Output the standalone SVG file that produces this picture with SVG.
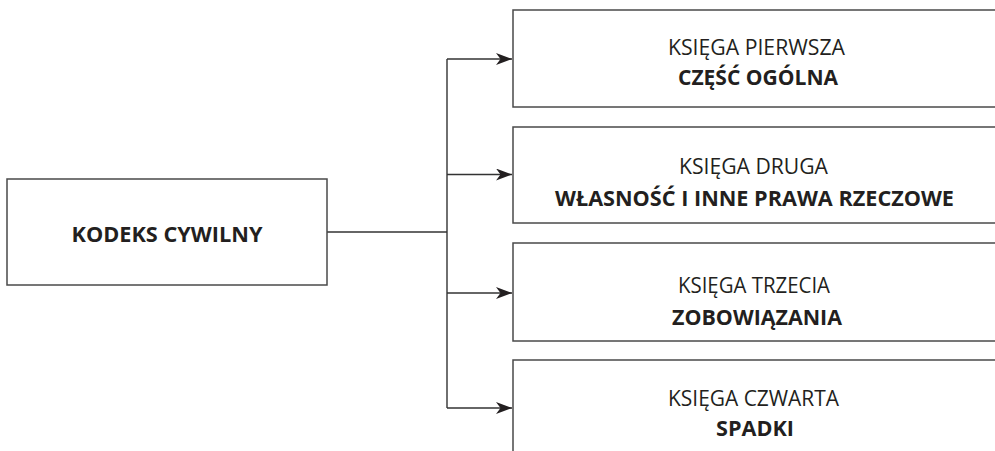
<svg xmlns="http://www.w3.org/2000/svg" width="995" height="451" viewBox="0 0 995 451">
<defs>
<marker id="arr" markerUnits="userSpaceOnUse" markerWidth="18" markerHeight="14" refX="16" refY="6" orient="auto">
<path d="M0,0 L16,6 L0,12 L4.5,6 z" fill="#231f20"/>
</marker>
<style>
.box{fill:#fff;stroke:#4a4a4a;stroke-width:1.5}
.con{fill:none;stroke:#333;stroke-width:1.4}
.t{font-family:"Open Sans","Noto Sans",sans-serif;font-size:22px;fill:#231f20;text-anchor:middle}
.b{font-weight:bold}
</style>
</defs>
<rect width="995" height="451" fill="#fff"/>
<g id="connectors">
<path class="con" d="M327,232 H447"/>
<path class="con" d="M447,408 V59"/>
<path class="con" d="M447,59 H512" marker-end="url(#arr)"/>
<path class="con" d="M447,174.5 H512" marker-end="url(#arr)"/>
<path class="con" d="M447,293 H512" marker-end="url(#arr)"/>
<path class="con" d="M447,408 H512" marker-end="url(#arr)"/>
</g>
<g id="kodeks">
<rect class="box" x="7" y="179" width="320" height="106"/>
<text class="t b" x="167" y="242" textLength="191" lengthAdjust="spacingAndGlyphs">KODEKS CYWILNY</text>
</g>
<g id="ksiega1">
<rect class="box" x="513" y="10" width="500" height="97"/>
<text class="t" x="756.5" y="55" textLength="177" lengthAdjust="spacingAndGlyphs">KSIĘGA PIERWSZA</text>
<text class="t b" x="758" y="85" textLength="160" lengthAdjust="spacingAndGlyphs">CZĘŚĆ OGÓLNA</text>
</g>
<g id="ksiega2">
<rect class="box" x="513" y="127" width="500" height="96"/>
<text class="t" x="753.5" y="174" textLength="149" lengthAdjust="spacingAndGlyphs">KSIĘGA DRUGA</text>
<text class="t b" x="754.5" y="206" textLength="399" lengthAdjust="spacingAndGlyphs">WŁASNOŚĆ I INNE PRAWA RZECZOWE</text>
</g>
<g id="ksiega3">
<rect class="box" x="513" y="243" width="500" height="98"/>
<text class="t" x="754" y="293" textLength="152" lengthAdjust="spacingAndGlyphs">KSIĘGA TRZECIA</text>
<text class="t b" x="757" y="325" textLength="170" lengthAdjust="spacingAndGlyphs">ZOBOWIĄZANIA</text>
</g>
<g id="ksiega4">
<rect class="box" x="513" y="360" width="500" height="110"/>
<text class="t" x="753.5" y="406" textLength="171" lengthAdjust="spacingAndGlyphs">KSIĘGA CZWARTA</text>
<text class="t b" x="755" y="436" textLength="78" lengthAdjust="spacingAndGlyphs">SPADKI</text>
</g>
</svg>
